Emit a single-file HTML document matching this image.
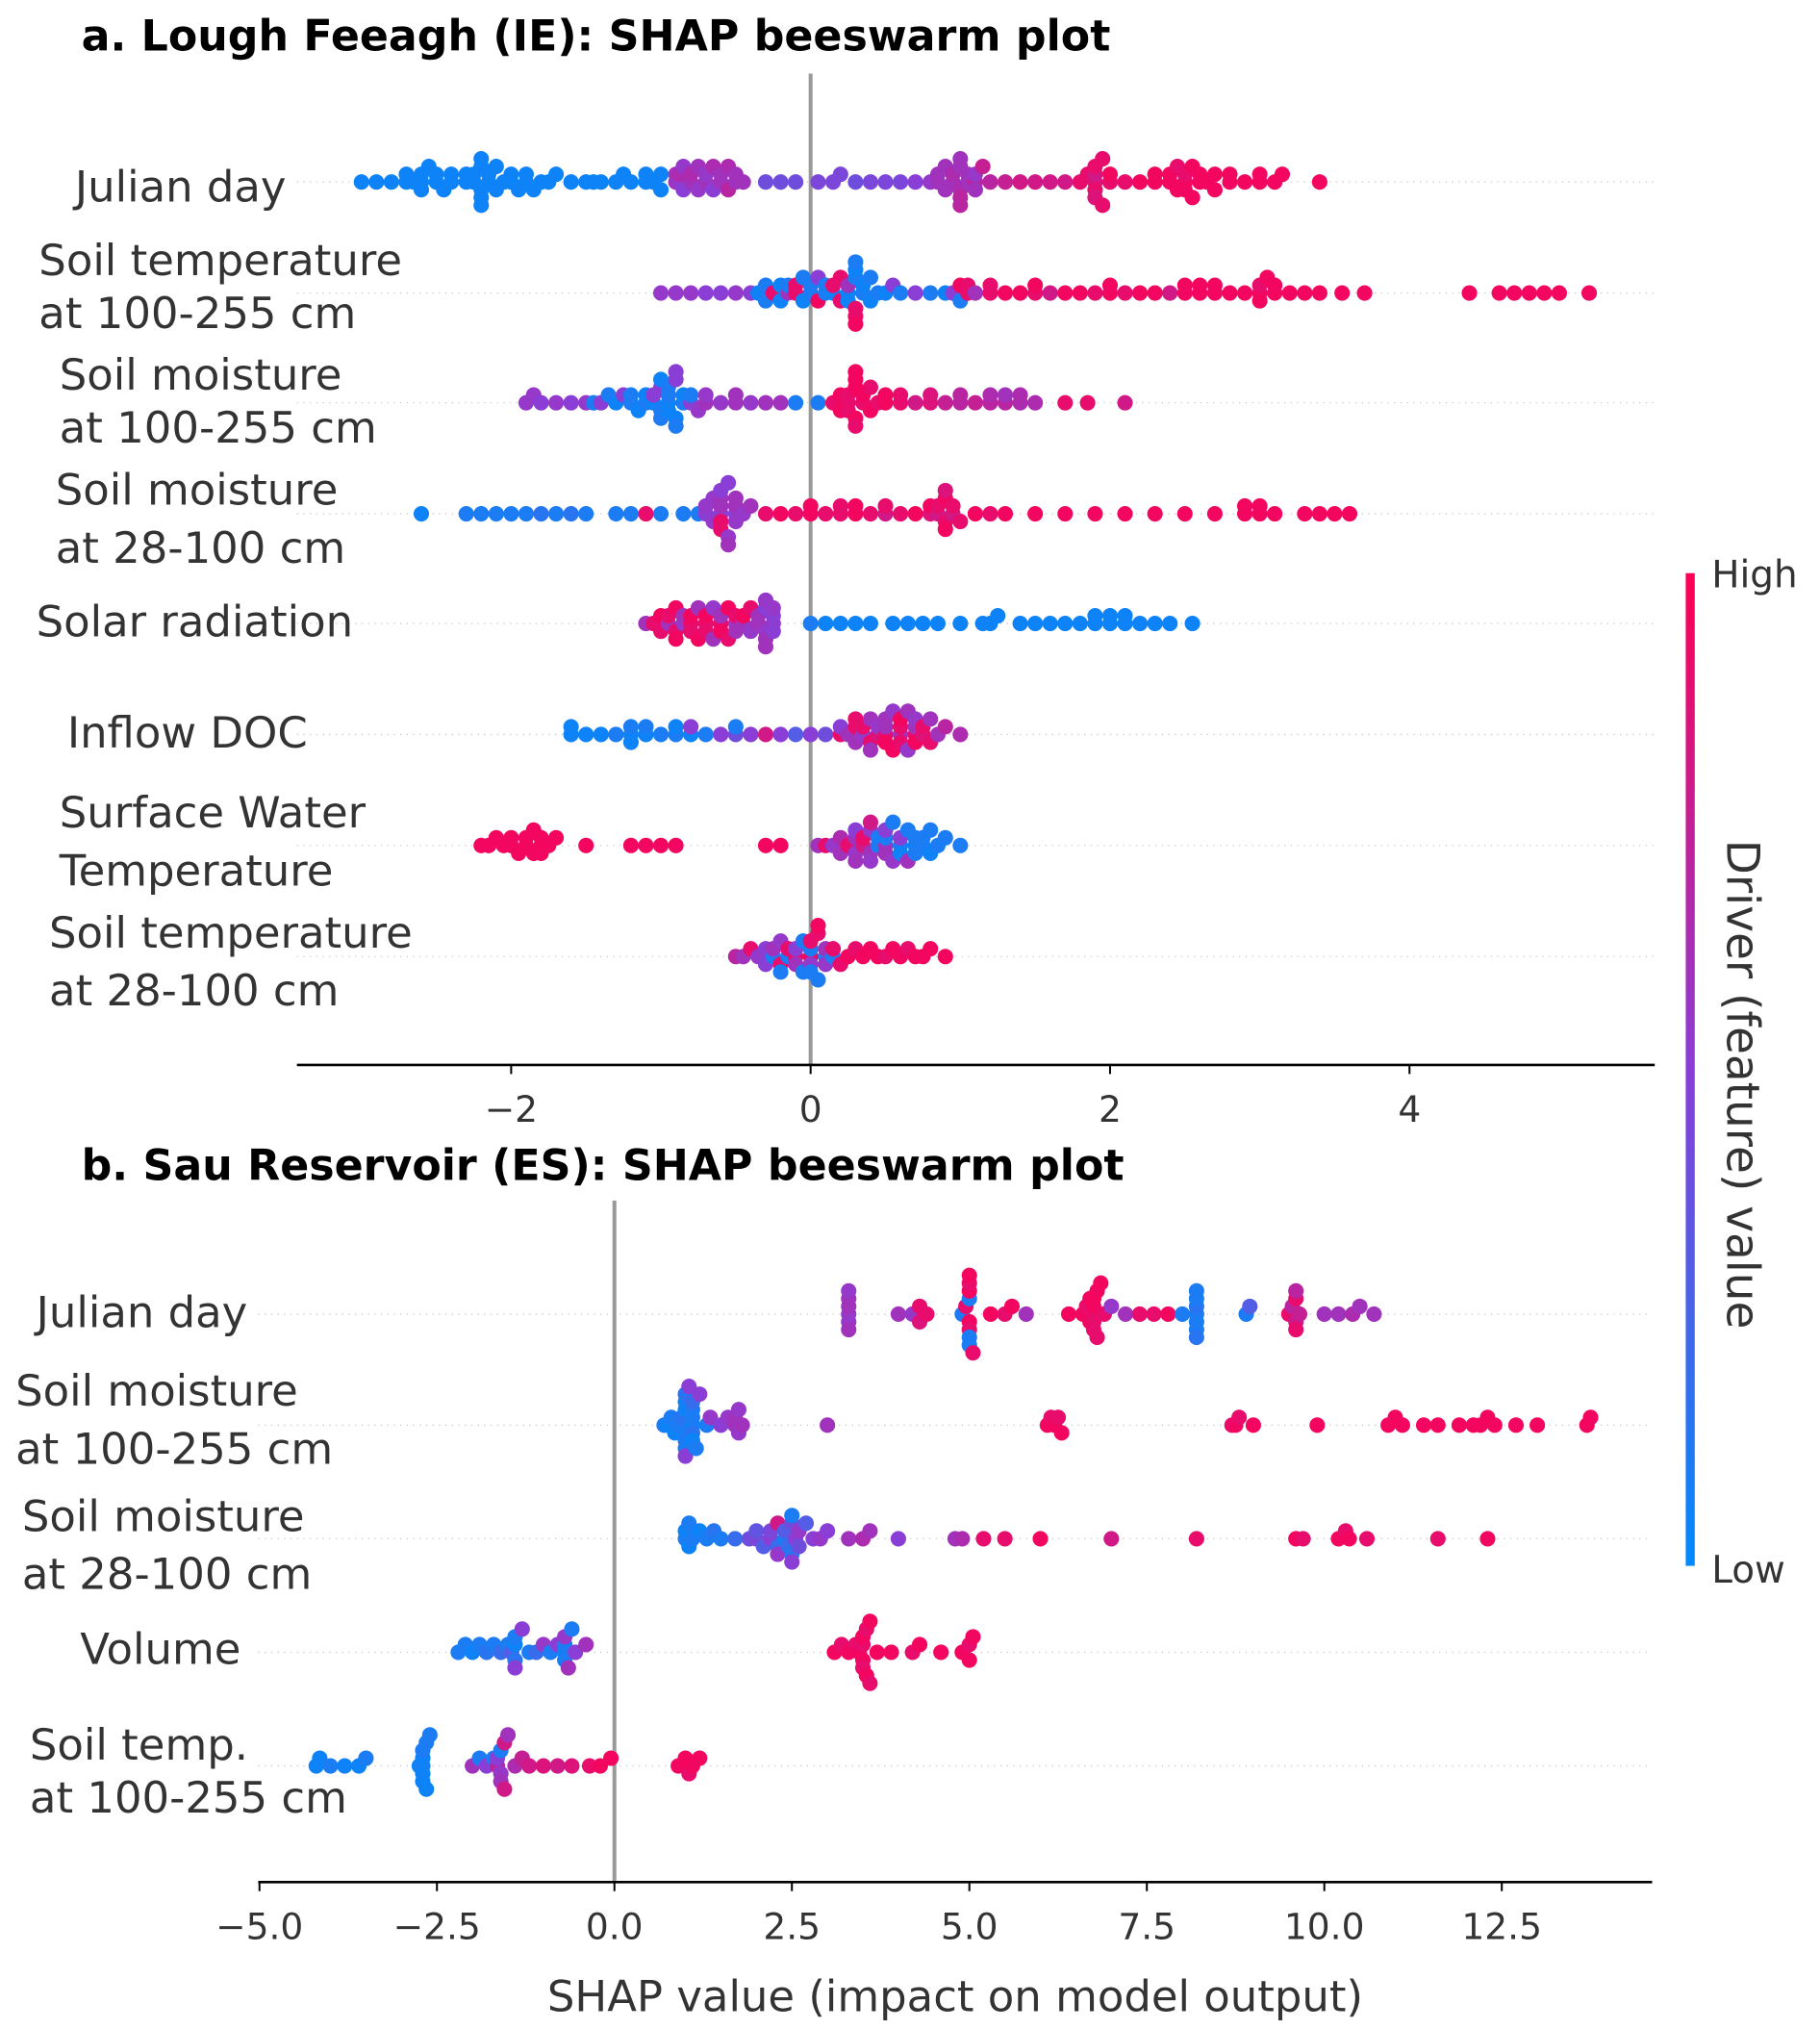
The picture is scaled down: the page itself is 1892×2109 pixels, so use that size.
<!DOCTYPE html>
<html><head><meta charset="utf-8"><style>html,body{margin:0;padding:0;background:#fff}svg{display:block}text{font-family:"DejaVu Sans","Liberation Sans",sans-serif}</style></head>
<body>
<svg id="chart" width="1892" height="2109" viewBox="0 0 1410 1571.8" xmlns="http://www.w3.org/2000/svg">
<defs><linearGradient id="cb" x1="0" y1="1" x2="0" y2="0"><stop offset="0" stop-color="#008bfb"/><stop offset="0.5" stop-color="#8a3ed6"/><stop offset="1" stop-color="#ff0052"/></linearGradient></defs>
<text x="63" y="39" font-size="33" font-weight="bold" fill="#000">a. Lough Feeagh (IE): SHAP beeswarm plot</text>
<text x="63" y="914" font-size="33" font-weight="bold" fill="#000">b. Sau Reservoir (ES): SHAP beeswarm plot</text>
<g id="pa"></g>
<g id="pb"></g>
<g font-size="33.5" fill="#333">
<text x="58" y="156">Julian day</text>
<text x="30" y="213">Soil temperature</text><text x="30" y="254">at 100-255 cm</text>
<text x="46" y="302">Soil moisture</text><text x="46" y="343">at 100-255 cm</text>
<text x="43" y="391">Soil moisture</text><text x="43" y="436">at 28-100 cm</text>
<text x="28" y="493">Solar radiation</text>
<text x="52" y="579">Inflow DOC</text>
<text x="46" y="641">Surface Water</text><text x="46" y="686">Temperature</text>
<text x="38" y="734">Soil temperature</text><text x="38" y="779">at 28-100 cm</text>
</g>
<g font-size="33.5" fill="#333">
<text x="28" y="1028">Julian day</text>
<text x="12" y="1089">Soil moisture</text><text x="12" y="1134">at 100-255 cm</text>
<text x="17" y="1186">Soil moisture</text><text x="17" y="1231">at 28-100 cm</text>
<text x="62" y="1289">Volume</text>
<text x="23" y="1363">Soil temp.</text><text x="23" y="1404">at 100-255 cm</text>
</g>
<text x="740" y="1558" font-size="33.5" fill="#333" text-anchor="middle">SHAP value (impact on model output)</text>
<rect x="1306" y="444" width="7" height="769" fill="url(#cb)"/>
<text x="1326" y="455" font-size="29" fill="#333">High</text>
<text x="1326" y="1226" font-size="29" fill="#333">Low</text>
<text x="1338" y="840" font-size="35" fill="#333" text-anchor="middle" transform="rotate(90 1338 840)">Driver (feature) value</text>
</svg>
<script>
// ---- Panel a data ----
const aTicks = [-2, 0, 2, 4];
const aJulS = [-3.0,-2.9,-2.8,-2.7,-2.65,-2.6,-2.6,-2.55,-2.5,-2.45,-2.4,-2.3,-2.25,-2.2,-2.2,-2.2,-2.2,-2.15,-2.1,-2.05,-2.0,-1.95,-1.9,-1.8,-1.75,-1.7,-1.6,-1.5,-1.45,-1.4,-1.3,-1.25,-1.2,-1.1,-1.05,-1.0,-0.9,-0.88,-0.88,-0.85,-0.8,-0.75,-0.7,-0.65,-0.65,-0.6,-0.55,-0.5,-0.45,-0.3,-0.2,-0.1,0.05,0.15,0.2,0.3,0.4,0.5,0.6,0.7,0.8,0.85,0.9,0.95,1.0,1.0,1.0,1.05,1.1,1.15,1.2,1.3,1.4,1.5,1.6,1.7,1.8,1.85,1.9,1.9,1.9,1.95,2.0,2.1,2.2,2.3,2.4,2.45,2.5,2.5,2.55,2.6,2.65,2.7,2.8,2.9,3.0,3.1,3.15,3.4,
  -2.7,-2.6,-2.5,-2.4,-2.3,-2.25,-2.2,-2.15,-2.1,-2.0,-1.9,-1.85,-1.1,-1.0,-0.9,-0.85,-0.8,-0.75,-0.7,-0.6,-0.55,-0.5,0.9,0.95,1.0,1.0,1.05,1.1,1.1,0.85,1.9,1.9,1.95,2.0,2.3,2.4,2.45,2.5,2.55,2.6,2.7,2.8,3.0];
const aJulF = [0.05,0.05,0.05,0.05,0.05,0.05,0.05,0.05,0.05,0.05,0.05,0.05,0.05,0.05,0.05,0.05,0.05,0.05,0.05,0.05,0.05,0.05,0.05,0.05,0.05,0.05,0.05,0.05,0.05,0.05,0.05,0.05,0.05,0.05,0.05,0.05,0.6,0.55,0.65,0.5,0.6,0.55,0.6,0.5,0.65,0.6,0.7,0.6,0.6,0.4,0.4,0.4,0.45,0.45,0.45,0.4,0.45,0.45,0.45,0.5,0.55,0.6,0.6,0.6,0.65,0.6,0.7,0.6,0.7,0.75,0.7,0.75,0.8,0.8,0.8,0.8,0.9,0.9,0.85,0.8,0.9,0.9,0.9,0.9,0.95,0.95,0.95,0.95,0.95,0.9,0.95,0.95,0.95,0.95,0.95,0.95,0.95,0.95,0.95,0.95,
  0.05,0.05,0.05,0.05,0.05,0.05,0.05,0.05,0.05,0.05,0.05,0.05,0.05,0.05,0.6,0.55,0.65,0.6,0.55,0.6,0.65,0.6,0.6,0.65,0.6,0.7,0.6,0.55,0.6,0.6,0.9,0.85,0.9,0.95,0.95,0.95,0.9,0.95,0.95,0.95,0.95,0.95,0.95];
const aST1S = [-1.0,-0.9,-0.8,-0.7,-0.6,-0.5,-0.4,-0.35,-0.3,-0.25,-0.2,-0.15,-0.15,-0.1,-0.05,0.0,0.05,0.1,0.15,0.2,0.25,0.25,0.3,0.3,0.3,0.35,0.4,0.45,0.5,0.55,0.6,0.7,0.8,0.9,0.95,1.0,1.05,1.1,1.2,1.3,1.4,1.5,1.6,1.7,1.8,1.9,2.0,2.1,2.2,2.3,2.4,2.5,2.6,2.7,2.8,2.9,3.0,3.0,3.1,3.2,3.3,3.4,3.55,3.7,4.4,4.6,4.7,4.8,4.9,5.0,5.2,
  -0.3,-0.2,-0.1,0.0,0.05,0.1,0.2,0.25,0.3,0.3,0.35,0.3,0.4,0.15,-0.05,1.0,1.05,1.2,1.5,2.0,2.5,2.6,2.7,3.0,3.05,3.1];
const aST1F = [0.55,0.55,0.55,0.5,0.5,0.55,0.5,0.05,0.1,0.9,0.05,0.6,0.1,0.9,0.05,0.1,0.95,0.1,0.05,0.9,0.05,0.6,0.1,0.9,0.05,0.1,0.05,0.1,0.05,0.5,0.1,0.5,0.1,0.05,0.5,0.95,0.9,0.6,0.9,0.95,0.95,0.9,0.8,0.95,0.95,0.9,0.95,0.9,0.95,0.95,0.8,0.95,0.95,0.95,0.95,0.95,0.95,0.9,0.95,0.95,0.95,0.95,0.95,0.95,0.95,0.95,0.95,0.95,0.95,0.95,0.95,
  0.1,0.05,0.9,0.1,0.5,0.1,0.9,0.05,0.9,0.1,0.05,0.95,0.1,0.9,0.1,0.1,0.9,0.9,0.95,0.95,0.95,0.95,0.95,0.95,0.95,0.95];
const aSM1S = [-1.9,-1.85,-1.8,-1.7,-1.6,-1.5,-1.45,-1.4,-1.35,-1.3,-1.25,-1.2,-1.15,-1.1,-1.05,-1.0,-1.0,-0.95,-0.95,-0.9,-0.9,-0.85,-0.8,-0.75,-0.7,-0.6,-0.5,-0.4,-0.3,-0.2,-0.1,0.05,0.15,0.2,0.25,0.3,0.3,0.35,0.4,0.45,0.5,0.6,0.7,0.8,0.9,1.0,1.1,1.2,1.3,1.4,1.5,1.7,1.85,2.1,
  -1.2,-1.1,-1.05,-1.0,-0.95,-0.9,-0.9,-0.85,-0.8,-1.0,-0.95,-0.7,-0.5,0.2,0.25,0.3,0.3,0.35,0.3,0.25,0.4,0.5,0.6,0.8,1.0,1.2,1.3,1.4];
const aSM1F = [0.55,0.55,0.5,0.55,0.5,0.55,0.1,0.5,0.1,0.05,0.5,0.1,0.05,0.1,0.05,0.1,0.5,0.05,0.1,0.05,0.5,0.1,0.5,0.55,0.6,0.55,0.6,0.55,0.6,0.6,0.1,0.1,0.9,0.95,0.9,0.95,0.95,0.9,0.95,0.9,0.95,0.9,0.8,0.85,0.75,0.7,0.75,0.7,0.7,0.65,0.65,0.9,0.9,0.8,
  0.1,0.05,0.5,0.1,0.05,0.1,0.5,0.05,0.1,0.05,0.1,0.55,0.6,0.95,0.9,0.95,0.9,0.95,0.95,0.9,0.9,0.95,0.9,0.85,0.7,0.65,0.6,0.65];
const aSM2S = [-2.6,-2.3,-2.2,-2.1,-2.0,-1.9,-1.8,-1.7,-1.6,-1.5,-1.3,-1.2,-1.1,-1.0,-0.85,-0.75,-0.7,-0.65,-0.6,-0.6,-0.6,-0.55,-0.5,-0.5,-0.45,-0.4,-0.3,-0.2,-0.1,0.0,0.1,0.2,0.3,0.4,0.5,0.6,0.7,0.8,0.85,0.9,0.9,0.95,1.0,1.1,1.2,1.3,1.5,1.7,1.9,2.1,2.3,2.5,2.7,2.9,3.0,3.1,3.3,3.4,3.6,
  -0.65,-0.6,-0.6,-0.55,-0.55,-0.5,-0.6,-0.5,-0.7,0.85,0.9,0.9,0.95,0.8,0.5,0.3,0.2,0.0,2.9,3.0,3.5];
const aSM2F = [0.05,0.1,0.1,0.1,0.1,0.1,0.15,0.1,0.15,0.1,0.1,0.1,0.9,0.1,0.1,0.1,0.5,0.55,0.5,0.6,0.9,0.55,0.5,0.6,0.55,0.6,0.9,0.95,0.9,0.95,0.9,0.9,0.95,0.9,0.8,0.9,0.95,0.85,0.8,0.9,0.95,0.8,0.9,0.95,0.9,0.95,0.95,0.95,0.95,0.95,0.95,0.95,0.95,0.95,0.95,0.95,0.95,0.95,0.95,
  0.55,0.6,0.9,0.5,0.6,0.55,0.5,0.6,0.55,0.9,0.95,0.85,0.9,0.95,0.9,0.95,0.9,0.95,0.95,0.95,0.95];
const aSolS = [-1.1,-1.05,-1.0,-0.95,-0.9,-0.9,-0.85,-0.8,-0.8,-0.75,-0.7,-0.7,-0.65,-0.6,-0.6,-0.55,-0.5,-0.5,-0.45,-0.4,-0.4,-0.35,-0.3,-0.3,-0.3,-0.25,-0.25,0.0,0.1,0.2,0.3,0.4,0.55,0.65,0.75,0.85,1.0,1.15,1.25,1.4,1.5,1.6,1.7,1.8,1.9,2.0,2.1,2.2,2.3,2.4,2.55,
  -1.0,-0.9,-0.85,-0.8,-0.75,-0.7,-0.65,-0.6,-0.55,-0.5,-0.45,-0.35,-0.3,-0.3,-0.25,-0.25,-0.95,2.0,2.1,1.9,1.2];
const aSolF = [0.6,0.9,0.95,0.6,0.9,0.95,0.55,0.9,0.95,0.6,0.9,0.95,0.55,0.9,0.6,0.95,0.55,0.9,0.6,0.55,0.9,0.6,0.55,0.5,0.6,0.55,0.5,0.1,0.05,0.05,0.05,0.05,0.05,0.05,0.05,0.05,0.05,0.05,0.05,0.05,0.05,0.05,0.05,0.05,0.05,0.05,0.05,0.05,0.05,0.05,0.05,
  0.9,0.95,0.6,0.9,0.95,0.9,0.6,0.95,0.9,0.6,0.95,0.6,0.55,0.6,0.5,0.55,0.9,0.05,0.05,0.05,0.05];
const aDocS = [-1.6,-1.6,-1.5,-1.4,-1.3,-1.2,-1.2,-1.1,-1.0,-0.9,-0.8,-0.8,-0.7,-0.6,-0.5,-0.4,-0.3,-0.2,-0.1,0.0,0.1,0.2,0.2,0.3,0.3,0.35,0.4,0.4,0.45,0.5,0.5,0.55,0.6,0.6,0.65,0.7,0.7,0.75,0.8,0.85,0.9,1.0,
  0.3,0.4,0.5,0.55,0.6,0.65,0.7,0.7,0.75,0.8,0.45,0.35,0.25,-1.2,-1.1,-0.9,-0.5,0.6,0.5];
const aDocF = [0.05,0.05,0.05,0.05,0.1,0.05,0.1,0.05,0.1,0.1,0.05,0.5,0.1,0.5,0.4,0.5,0.8,0.5,0.3,0.5,0.4,0.9,0.5,0.9,0.6,0.55,0.9,0.6,0.85,0.9,0.6,0.95,0.6,0.9,0.55,0.9,0.6,0.85,0.9,0.6,0.7,0.65,
  0.9,0.6,0.95,0.55,0.9,0.6,0.95,0.55,0.9,0.6,0.55,0.9,0.6,0.05,0.1,0.05,0.1,0.95,0.6];
const aSwtS = [-2.2,-2.15,-2.1,-2.05,-2.0,-1.95,-1.9,-1.85,-1.8,-1.8,-1.75,-1.7,-1.5,-1.2,-1.1,-1.0,-0.9,-0.3,-0.2,0.05,0.1,0.15,0.2,0.25,0.3,0.3,0.35,0.4,0.4,0.45,0.5,0.5,0.55,0.6,0.6,0.65,0.7,0.7,0.75,0.8,0.85,0.9,1.0,
  0.2,0.3,0.35,0.4,0.45,0.5,0.55,0.6,0.65,0.7,0.75,0.8,0.4,0.3,0.5,-1.9,-2.0,-1.85,-1.8];
const aSwtF = [0.95,0.95,0.95,0.95,0.95,0.95,0.95,0.95,0.95,0.95,0.95,0.95,0.95,0.95,0.95,0.95,0.95,0.95,0.95,0.6,0.9,0.55,0.65,0.9,0.6,0.55,0.8,0.6,0.55,0.1,0.6,0.1,0.55,0.1,0.5,0.1,0.05,0.1,0.1,0.05,0.1,0.1,0.1,
  0.6,0.5,0.9,0.55,0.1,0.6,0.1,0.05,0.6,0.1,0.1,0.1,0.8,0.6,0.5,0.95,0.95,0.95,0.95];
const aSt2S = [-0.5,-0.45,-0.4,-0.35,-0.3,-0.25,-0.2,-0.2,-0.15,-0.1,-0.1,-0.05,0.0,0.0,0.0,0.05,0.1,0.1,0.15,0.2,0.25,0.3,0.35,0.4,0.45,0.5,0.55,0.6,0.65,0.7,0.75,0.8,0.9,
  -0.3,-0.2,-0.15,-0.1,-0.05,0.0,0.05,0.1,0.15,-0.25,0.0,0.05];
const aSt2F = [0.7,0.6,0.9,0.55,0.5,0.1,0.9,0.55,0.1,0.9,0.5,0.1,0.95,0.1,0.55,0.9,0.1,0.6,0.1,0.9,0.95,0.9,0.95,0.95,0.95,0.9,0.95,0.95,0.9,0.95,0.95,0.95,0.95,
  0.5,0.1,0.9,0.6,0.1,0.9,0.1,0.55,0.9,0.6,0.1,0.95];

// ---- Panel b data ----
const bTicks = [-5.0,-2.5,0.0,2.5,5.0,7.5,10.0,12.5];
const bJulS = [3.3,3.3,3.3,3.3,4.0,4.2,4.3,4.3,4.4,4.9,4.95,5.0,5.0,5.0,5.0,5.0,5.05,5.3,5.5,5.6,5.8,6.4,6.6,6.65,6.7,6.7,6.75,6.8,6.8,6.85,6.9,7.0,7.2,7.4,7.6,7.8,8.0,8.2,8.2,8.2,8.2,8.2,8.9,8.95,9.5,9.55,9.6,9.6,9.65,10.0,10.2,10.4,10.5,10.7,
  3.3,3.3,5.0,5.0,5.0,6.75,6.75,6.75,6.75,8.2,8.2,9.6,9.6];
const bJulF = [0.55,0.6,0.55,0.6,0.6,0.55,0.9,0.85,0.9,0.1,0.9,0.95,0.1,0.9,0.95,0.1,0.9,0.95,0.9,0.95,0.6,0.95,0.95,0.9,0.95,0.95,0.9,0.95,0.9,0.95,0.9,0.55,0.6,0.9,0.9,0.95,0.1,0.1,0.15,0.1,0.1,0.1,0.1,0.3,0.9,0.7,0.8,0.9,0.75,0.6,0.6,0.65,0.6,0.6,
  0.6,0.55,0.9,0.1,0.95,0.95,0.9,0.95,0.9,0.1,0.15,0.9,0.7];
const bSm1S = [0.7,0.75,0.8,0.85,0.9,0.95,1.0,1.0,1.0,1.05,1.1,1.1,1.1,1.15,1.2,1.3,1.35,1.5,1.6,1.7,1.75,1.8,3.0,6.1,6.15,6.2,6.25,6.3,8.7,8.75,8.8,9.0,9.9,10.9,11.0,11.1,11.4,11.6,11.9,12.1,12.2,12.3,12.4,12.7,13.0,13.7,13.75,
  1.0,1.0,1.0,1.0,1.1,1.1,1.1,1.7,1.75];
const bSm1F = [0.1,0.05,0.1,0.05,0.1,0.15,0.1,0.05,0.1,0.5,0.05,0.1,0.15,0.1,0.5,0.1,0.55,0.5,0.55,0.6,0.55,0.6,0.6,0.95,0.9,0.95,0.9,0.95,0.9,0.95,0.9,0.95,0.95,0.95,0.95,0.95,0.95,0.95,0.95,0.95,0.95,0.95,0.95,0.95,0.95,0.95,0.95,
  0.05,0.1,0.15,0.5,0.1,0.05,0.2,0.6,0.55];
const bSm2S = [1.0,1.05,1.1,1.2,1.3,1.4,1.5,1.7,1.9,2.0,2.1,2.2,2.3,2.3,2.4,2.5,2.5,2.55,2.6,2.7,2.8,2.9,3.0,3.3,3.5,3.6,4.0,4.8,4.9,5.2,5.5,6.0,7.0,8.2,9.6,9.7,10.2,10.3,10.35,10.6,11.6,12.3,
  2.4,2.5,2.5,2.6,2.45,2.2,2.3,2.0,1.0,1.05];
const bSm2F = [0.1,0.05,0.1,0.05,0.1,0.15,0.1,0.2,0.4,0.45,0.3,0.5,0.2,0.8,0.1,0.4,0.15,0.5,0.55,0.3,0.5,0.55,0.5,0.6,0.65,0.6,0.5,0.6,0.65,0.9,0.9,0.95,0.8,0.9,0.95,0.9,0.95,0.9,0.95,0.9,0.9,0.95,
  0.3,0.1,0.5,0.4,0.2,0.45,0.55,0.35,0.05,0.1];
const bVolS = [-2.2,-2.1,-2.0,-1.9,-1.8,-1.7,-1.6,-1.5,-1.45,-1.4,-1.4,-1.3,-1.2,-1.1,-1.0,-0.9,-0.8,-0.7,-0.7,-0.65,-0.6,-0.55,-0.4,3.1,3.2,3.3,3.4,3.45,3.5,3.5,3.55,3.6,3.7,3.9,4.2,4.3,4.6,4.9,5.0,5.05,
  -1.4,-1.4,-0.7,-0.7,3.5,3.5,3.55,3.6,5.0];
const bVolF = [0.1,0.1,0.05,0.1,0.15,0.1,0.2,0.1,0.3,0.05,0.15,0.5,0.1,0.2,0.55,0.1,0.5,0.05,0.1,0.6,0.1,0.5,0.6,0.95,0.9,0.95,0.9,0.95,0.9,0.95,0.9,0.95,0.95,0.95,0.9,0.95,0.95,0.95,0.9,0.95,
  0.1,0.5,0.1,0.55,0.95,0.9,0.95,0.9,0.95];
const bStS = [-4.2,-4.15,-4.0,-3.8,-3.6,-3.5,-2.75,-2.7,-2.7,-2.65,-2.65,-2.6,-2.0,-1.9,-1.8,-1.7,-1.65,-1.6,-1.55,-1.5,-1.4,-1.3,-1.2,-1.0,-0.8,-0.6,-0.35,-0.2,-0.05,0.9,1.0,1.05,1.1,1.2,
  -2.7,-2.7,-2.7,-1.6,-1.6,-1.55,-1.65];
const bStF = [0.05,0.05,0.1,0.05,0.05,0.1,0.05,0.1,0.05,0.1,0.05,0.1,0.6,0.1,0.5,0.1,0.7,0.55,0.8,0.6,0.65,0.75,0.8,0.85,0.8,0.85,0.9,0.95,0.95,0.95,0.95,0.9,0.95,0.95,
  0.05,0.1,0.05,0.1,0.6,0.8,0.5];

const NS='http://www.w3.org/2000/svg';
function mk(p,tag,at){const e=document.createElementNS(NS,tag);for(const k in at)e.setAttribute(k,at[k]);p.appendChild(e);return e;}
function lerp(a,b,t){return Math.round(a+(b-a)*t);}
function color(f){const c0=[0,139,251],c1=[138,62,214],c2=[255,0,82];let a,b,t;if(f<0.5){a=c0;b=c1;t=f/0.5;}else{a=c1;b=c2;t=(f-0.5)/0.5;}return `rgb(${lerp(a[0],b[0],t)},${lerp(a[1],b[1],t)},${lerp(a[2],b[2],t)})`;}

function panel(g,cfg){
  const X=v=>cfg.x0+v*cfg.unit;
  cfg.rows.forEach((r,i)=>{const gl=mk(g,'line',{x1:cfg.gx,x2:cfg.axR,y1:cfg.rowY[i],y2:cfg.rowY[i],stroke:'#ccc','stroke-width':1,'stroke-dasharray':'1,4'});
    
    });
  const z=mk(g,'line',{x1:X(0),x2:X(0),y1:cfg.zTop,y2:cfg.axY,stroke:'#999','stroke-width':3});
  
  
  cfg.rows.forEach((r,i)=>{
    const bins={};
    const idx=r.s.map((v,j)=>j).sort((a,b)=>r.s[a]-r.s[b]);
    idx.forEach(j=>{
      const px=X(r.s[j]);const key=Math.round(px/10);
      const k=bins[key]||0;bins[key]=k+1;
      const off=k===0?0:Math.ceil(k/2)*(k%2?-1:1)*6;
      const c=mk(g,'circle',{cx:px.toFixed(1),cy:(cfg.rowY[i]+off).toFixed(1),r:6,fill:color(r.f[j])});
      
      
    });
  });
  const ax=mk(g,'line',{x1:cfg.axL,x2:cfg.axR,y1:cfg.axY,y2:cfg.axY,stroke:'#000','stroke-width':2});
  
  
  cfg.ticks.forEach(t=>{
    const tk=mk(g,'line',{x1:X(t),x2:X(t),y1:cfg.axY,y2:cfg.axY+7,stroke:'#000','stroke-width':1.5});
    
    
    const tx=mk(g,'text',{x:X(t),y:cfg.axY+44,'font-size':28,fill:'#333','text-anchor':'middle'});
    tx.textContent=(cfg.dec?t.toFixed(1):String(t)).replace('-','\u2212');
    
    
  });
}
panel(document.getElementById('pa'),{x0:628,unit:116,axY:825,axL:230,axR:1282,gx:230,zTop:57,ticks:aTicks,dec:false,
  rowY:[141,227,312,398,483,569,655,741],
  rows:[{name:'julian-day',s:aJulS,f:aJulF},{name:'soil-temp-100',s:aST1S,f:aST1F},{name:'soil-moist-100',s:aSM1S,f:aSM1F},{name:'soil-moist-28',s:aSM2S,f:aSM2F},{name:'solar-radiation',s:aSolS,f:aSolF},{name:'inflow-doc',s:aDocS,f:aDocF},{name:'surface-water-temp',s:aSwtS,f:aSwtF},{name:'soil-temp-28',s:aSt2S,f:aSt2F}]});
panel(document.getElementById('pb'),{x0:476,unit:55,axY:1458,axL:200,axR:1280,gx:200,zTop:930,ticks:bTicks,dec:true,
  rowY:[1018,1104,1192,1280,1368],
  rows:[{name:'julian-day-b',s:bJulS,f:bJulF},{name:'soil-moist-100-b',s:bSm1S,f:bSm1F},{name:'soil-moist-28-b',s:bSm2S,f:bSm2F},{name:'volume-b',s:bVolS,f:bVolF},{name:'soil-temp-100-b',s:bStS,f:bStF}]});
</script>
</body></html>
